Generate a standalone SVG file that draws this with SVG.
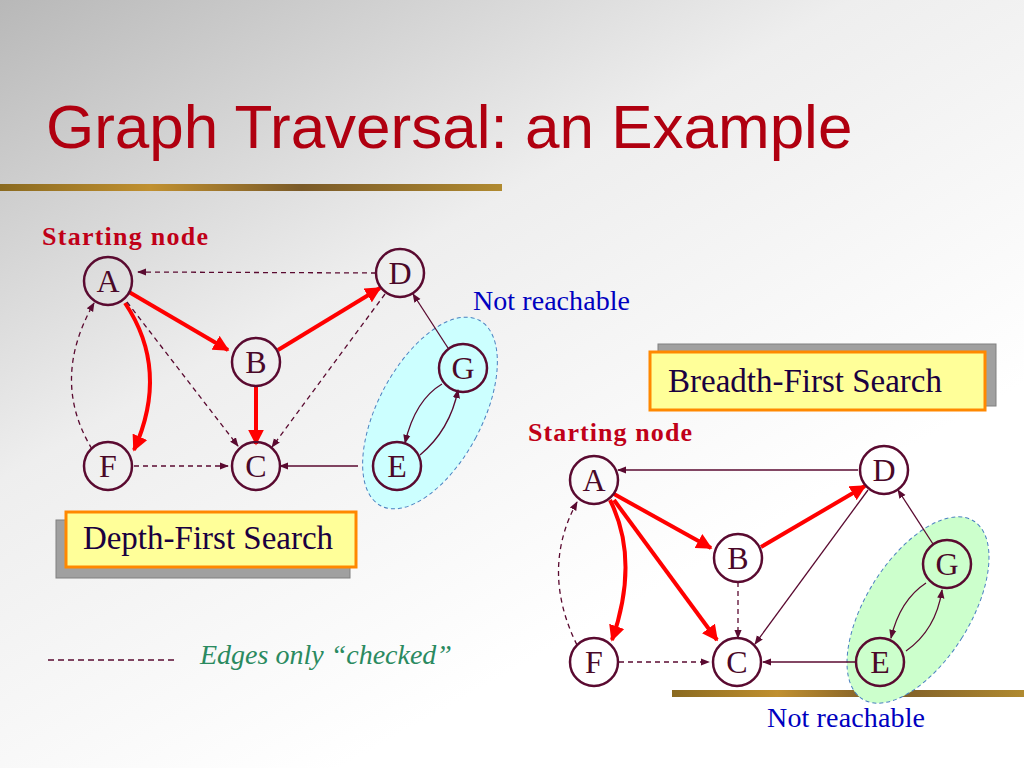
<svg xmlns="http://www.w3.org/2000/svg" width="1024" height="768" viewBox="0 0 1024 768">
<defs>
<linearGradient id="bg" x1="0" y1="0" x2="0.6" y2="0.8">
<stop offset="0" stop-color="#b8b8b8"/><stop offset="0.5" stop-color="#eeeeee"/><stop offset="1" stop-color="#ffffff"/>
</linearGradient>
<linearGradient id="bar" x1="0" y1="0" x2="1" y2="0">
<stop offset="0" stop-color="#8a6a20"/><stop offset="0.3" stop-color="#c09030"/><stop offset="0.6" stop-color="#7a5a28"/><stop offset="1" stop-color="#b08a30"/>
</linearGradient>
<marker id="mr" viewBox="0 0 10 10" refX="9" refY="5" markerWidth="4" markerHeight="4" orient="auto"><path d="M0,0L10,5L0,10z" fill="#ff0000"/></marker>
<marker id="md" viewBox="0 0 10 10" refX="9" refY="5" markerWidth="7" markerHeight="7" orient="auto"><path d="M0,1L10,5L0,9z" fill="#5a0a30"/></marker>
<style>
.n circle{fill:none;stroke:#5a0a30;stroke-width:2.5}
.n text{font-family:"Liberation Serif",serif;font-size:32px;fill:#4a0828;text-anchor:middle}
.r{stroke:#ff0000;stroke-width:4;fill:none;marker-end:url(#mr)}
.d{stroke:#5a0a30;stroke-width:1.3;fill:none;stroke-dasharray:5,4;marker-end:url(#md)}
.s{stroke:#5a0a30;stroke-width:1.3;fill:none;marker-end:url(#md)}
.lab{font-family:"Liberation Serif",serif}
</style>
</defs>
<rect width="1024" height="768" fill="url(#bg)"/>
<rect x="0" y="184" width="502" height="7" fill="url(#bar)"/>
<rect x="672" y="690" width="352" height="7" fill="url(#bar)"/>
<text x="46" y="148" font-family="Liberation Sans,sans-serif" font-size="62" fill="#b00010">Graph Traversal: an Example</text>
<text x="42" y="245" class="lab" font-size="26" font-weight="bold" fill="#c00018" textLength="166">Starting node</text>
<text x="528" y="441" class="lab" font-size="26" font-weight="bold" fill="#c00018" textLength="164">Starting node</text>
<text x="473" y="310" class="lab" font-size="28" fill="#0000c0" textLength="157">Not reachable</text>
<text x="767" y="727" class="lab" font-size="28" fill="#0000c0" textLength="158">Not reachable</text>
<text x="200" y="664" class="lab" font-size="28" font-style="italic" fill="#2a8a60">Edges only “checked”</text>
<line x1="48" y1="660" x2="175" y2="660" stroke="#5a0a30" stroke-width="1.3" stroke-dasharray="6,4"/>
<ellipse cx="430" cy="413" rx="52" ry="105" transform="rotate(28 430 413)" fill="#ccffff" stroke="#4a80c0" stroke-dasharray="4,3"/>
<ellipse cx="918" cy="610" rx="52" ry="105" transform="rotate(32 918 610)" fill="#ccffcc" stroke="#4a80c0" stroke-dasharray="4,3"/>
<g id="dfs-box"><rect x="56" y="520" width="294" height="58" fill="#a0a0a0" stroke="#808080"/><rect x="66" y="512" width="290" height="55" fill="#ffff99" stroke="#ff8800" stroke-width="3"/>
<text x="208" y="549" class="lab" font-size="33" text-anchor="middle" fill="#1a0040">Depth-First Search</text></g>
<g id="bfs-box"><rect x="658" y="344" width="338" height="62" fill="#a0a0a0" stroke="#808080"/><rect x="650" y="352" width="335" height="58" fill="#ffff99" stroke="#ff8800" stroke-width="3"/>
<text x="805" y="392" class="lab" font-size="33" text-anchor="middle" fill="#1a0040">Breadth-First Search</text></g>
<g id="connectors">
<path class="d" d="M376,273L138,272"/>
<path class="r" d="M129,292L228,350"/>
<path class="r" d="M278,350L380,288"/>
<path class="r" d="M256,386L256,444"/>
<path class="r" d="M125,303Q170,370 134,450"/>
<path class="d" d="M127,302L238,446"/>
<path class="d" d="M385,294L272,447"/>
<path class="d" d="M92,449Q50,380 94,303"/>
<path class="d" d="M134,466L228,466"/>
<path class="s" d="M358,466L280,466"/>
<path class="s" d="M448,348L413,294"/>
<path class="s" d="M442,384Q415,400 405,443"/>
<path class="s" d="M420,455Q450,430 458,390"/>
<path class="s" d="M858,470L618,470"/>
<path class="r" d="M614,494L711,548"/>
<path class="r" d="M761,547L865,486"/>
<path class="r" d="M610,500Q640,560 612,640"/>
<path class="r" d="M614,500L717,640"/>
<path class="d" d="M738,582L738,638"/>
<path class="s" d="M868,490L755,644"/>
<path class="d" d="M577,645Q540,570 577,502"/>
<path class="d" d="M619,662L709,662"/>
<path class="s" d="M856,662L763,662"/>
<path class="s" d="M933,544L898,490"/>
<path class="s" d="M926,583Q900,600 891,638"/>
<path class="s" d="M906,651Q936,630 942,590"/>
</g>
<g id="dfs-A" class="n"><circle cx="108" cy="281" r="24"/><text x="108" y="292">A</text></g>
<g id="dfs-D" class="n"><circle cx="400" cy="273" r="24"/><text x="400" y="284">D</text></g>
<g id="dfs-B" class="n"><circle cx="256" cy="362" r="24"/><text x="256" y="373">B</text></g>
<g id="dfs-G" class="n"><circle cx="463" cy="368" r="24"/><text x="463" y="379">G</text></g>
<g id="dfs-F" class="n"><circle cx="108" cy="466" r="24"/><text x="108" y="477">F</text></g>
<g id="dfs-C" class="n"><circle cx="256" cy="466" r="24"/><text x="256" y="477">C</text></g>
<g id="dfs-E" class="n"><circle cx="397" cy="466" r="24"/><text x="397" y="477">E</text></g>
<g id="bfs-A" class="n"><circle cx="594" cy="480" r="24"/><text x="594" y="491">A</text></g>
<g id="bfs-D" class="n"><circle cx="884" cy="470" r="24"/><text x="884" y="481">D</text></g>
<g id="bfs-B" class="n"><circle cx="738" cy="558" r="24"/><text x="738" y="569">B</text></g>
<g id="bfs-G" class="n"><circle cx="947" cy="564" r="24"/><text x="947" y="575">G</text></g>
<g id="bfs-F" class="n"><circle cx="594" cy="662" r="24"/><text x="594" y="673">F</text></g>
<g id="bfs-C" class="n"><circle cx="737" cy="662" r="24"/><text x="737" y="673">C</text></g>
<g id="bfs-E" class="n"><circle cx="880" cy="662" r="24"/><text x="880" y="673">E</text></g>
</svg>
